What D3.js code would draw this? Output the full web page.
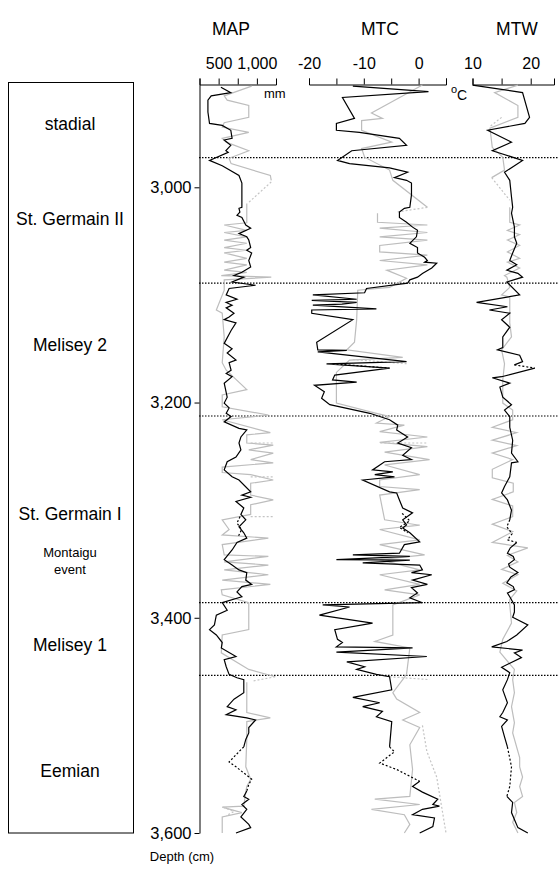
<!DOCTYPE html>
<html>
<head>
<meta charset="utf-8">
<script src="https://cdn.jsdelivr.net/npm/d3@7"></script>
<style>
  body { margin: 0; background: #fff; }
  text { font-family: "Liberation Sans", Arial, sans-serif; }
</style>
</head>
<body>
<div id="chart-area"></div>
<script>
// depth scale and zone annotations
const depthTicks = [3000, 3200, 3400, 3600]
const boundaries = [2972.5, 3089, 3212.5, 3386, 3453.5]
const zoneNames = ["stadial", "St. Germain II", "Melisey 2", "St. Germain I", "Montaigu", "event", "Melisey 1", "Eemian"]
const zoneDepths = [2940.6, 3029.7, 3146.6, 3303.5, 3339.7, 3355.5, 3425, 3542]

// MAP (mm) - [depth, value], null breaks the line
const mapBlack = [[2907,530],[2912,659],[2915,403],[2919,360],[2930,360],[2940.6,381],[2942.5,547],[2947,659],[2954.5,676],[2956,573],[2961,659],[2966,595],[2967.5,625],[2975,381],[2980,547],[2989,766],[2996,804],[3018.6,804],[3019.5,766],[3023,778],[3026,740],[3028,804],[3035,855],[3038,919],[3043,766],[3046,868],[3049,894],[3056,919],[3058.5,868],[3061,932],[3068,894],[3074,919],[3079,804],[3082,701],[3083.5,829],[3088,676],[3091,983],[3094,637],[3100,599],[3104,740],[3107,599],[3109.5,676],[3112,599],[3117,701],[3120.6,637],[3123,573],[3126,727],[3133,663],[3145,573],[3150,676],[3154,612],[3160.5,727],[3163,637],[3170,663],[3173,599],[3176,676],[3182,573],[3195,612],[3200.5,573],[3205,637],[3210,599],[3213,663],[3218,573],[3224,766],[3225.5,868],[3232,791],[3237.6,766],[3244,791],[3250.6,727],[3255,612],[3262.6,573],[3269,676],[3272,766],[3283,919],[3286,804],[3288,919],[3292,727],[3298,829],[3304,791],[3309,855],[3315.5,766],[3321,829],[3326,868],[3330,740],[3337,676],[3346,573],[3351,676],[3355.5,766],[3358,868],[3365,855],[3369,932],[3371,804],[3376,740],[3380.5,804],[3386,547],[3393,612],[3397.5,470],[3406.6,445],[3411,381],[3416,470],[3423,547],[3428,535],[3436,727],[3439,573],[3445.5,599],[3452.6,637],[3455.7,740],[3457.5,829],[3469.6,829],[3475.6,701],[3482.6,612],[3485.5,727],[3490,599],[3493,868],[3495,983],[3502,894],[3507,894],[3513,855],[3520,829],[3521,null],[3561,868],[3566,829],[3568.6,894],[3573.5,804],[3578,868],[3585,791],[3592,894],[3595,919],[3600,727]]
const mapBlackDot = [[3306,780],[3312,740],[3318,800],[3324,760],[3325,null],[3520,829],[3522.6,791],[3534,637],[3538.5,727],[3550,932],[3555,894],[3561,868]]
const mapGray = [[2906,932],[2915,573],[2919,612],[2924,894],[2935,894],[2940,573],[2944,547],[2949,894],[2954.5,547],[2958,599],[2966,894],[2973,637],[2978,663],[2989,1176],[2993.5,1188],[2995,null],[3015,868],[3033,868],[3035,573],[3040,868],[3042,573],[3046,868],[3049,573],[3052,868],[3056,573],[3058.5,868],[3061,573],[3066,868],[3069.6,573],[3072,868],[3077,573],[3079,868],[3082,535],[3083.5,1188],[3086,573],[3095.6,573],[3114,470],[3117,547],[3139,573],[3163,547],[3170,599],[3188,868],[3193,547],[3204,547],[3211.6,1150],[3216,547],[3228,1176],[3230,868],[3237.6,868],[3239.5,1214],[3244,894],[3247,1214],[3253,919],[3256,1214],[3260,547],[3265,547],[3267,919],[3272,1214],[3275,919],[3286,919],[3290.5,1214],[3295,919],[3304,919],[3309,547],[3318,637],[3323,547],[3326,1150],[3332,547],[3341.5,573],[3343,1150],[3348,573],[3351,1150],[3355.5,573],[3360,1150],[3365,547],[3369,1176],[3374,535],[3378.7,547],[3386,894],[3411,894],[3416,547],[3432.6,535],[3448,894],[3454.8,1240],[3456,null],[3460,868],[3488,868],[3493,1176],[3496.5,868],[3513,868],[3538.5,855],[3550,919],[3556.8,868],[3562,855],[3575,829],[3576,547],[3581,804],[3585,547],[3600,547]]
const mapLight = [[2995,1188],[3014,894],[3015,null],[3237.6,919],[3237.6,1214],[3238,null],[3269,919],[3269,1214],[3270,null],[3306,919],[3306,1214],[3307,null],[3454.8,1240],[3459,932],[3460,null],[3576,560],[3580,700],[3584,600]]

// MTC (oC)
const mtcBlack = [[2906,-12.0],[2911,1.8],[2916.5,-13.9],[2936,-11.7],[2940.6,-15.0],[2947,-15.0],[2949,-10.8],[2954.5,-3.5],[2961,-2.2],[2966,-12.2],[2975,-14.8],[2978,-12.6],[2982,-5.3],[2986,-2.0],[2991,-4.4],[2993.5,-2.2],[2996,-1.3],[3007,-1.3],[3018.6,-1.6],[3019.5,-2.6],[3023,-3.5],[3028,-3.5],[3032.5,-2.2],[3037,-1.1],[3040,-0.2],[3046,-0.4],[3052,-1.6],[3056,-0.2],[3061,-0.2],[3065,1.1],[3068,1.6],[3069.6,1.1],[3070.5,3.3],[3075,2.4],[3080,0.7],[3083.5,-0.2],[3086,-1.6],[3089,-2.0],[3094,-9.5],[3098,-9.85],[3100,-19.3],[3104,-11.3],[3105,-19.5],[3107,-11.3],[3108.6,-14.0],[3109.5,-19.3],[3113,-7.7],[3114,-19.5],[3117,-19.5],[3123,-12.0],[3144,-18.6],[3151,-18.4],[3151.5,-13.1],[3153,-18.4],[3162,-2.2],[3164,-16.8],[3168,-5.3],[3174.5,-15.3],[3179,-15.7],[3181,-11.3],[3184,-19.0],[3190,-17.2],[3196,-17.7],[3202,-16.2],[3210,-8.9],[3216,-5.3],[3221,-3.8],[3225.5,-4.0],[3232,-2.0],[3237.6,-3.8],[3242,-1.3],[3249,-2.9],[3253,-1.3],[3255,-6.2],[3262.6,-8.4],[3264.5,-4.7],[3267,-8.0],[3269,-4.4],[3272,-10.2],[3283,-5.3],[3284,-4.0],[3290.5,-3.5],[3298,-2.9],[3302.5,-1.1],[3309,-2.9],[3313.7,-2.2],[3316.5,-2.9],[3321,-1.6],[3329.5,0.2],[3332,-2.6],[3340,-3.5],[3341.5,-12.0],[3343,-1.6],[3346,-15.0],[3346.5,-1.6],[3349,-10.2],[3351,0.2],[3355.5,0.7],[3358,-1.3],[3360,2.4],[3365,-1.1],[3369,1.6],[3372,-1.3],[3377,-0.2],[3381.5,-1.6],[3386,0.7],[3388,-17.5],[3390,-12.6],[3397.5,-18.1],[3405,-8.4],[3411,-15.3],[3420,-14.8],[3423,-13.9],[3427,-15.0],[3428,-1.1],[3432,-15.0],[3436,1.5],[3441,-13.1],[3445.5,-9.85],[3448,-11.3],[3452.6,-7.7],[3454.8,-5.3],[3467,-4.9],[3474,-12.0],[3479,-7.1],[3482.6,-10.2],[3487,-6.6],[3492,-7.7],[3496.5,-4.9],[3520,-5.3],[3521,null],[3552,0.2],[3556.8,-1.1],[3562,0.7],[3568.6,3.5],[3573.5,2.6],[3575,3.8],[3578,0.7],[3583,-1.1],[3586,2.9],[3594,2.6],[3600,0.2]]
const mtcBlackDot = [[3164,-15.7],[3168,-5.3],[3169,null],[3303,-3.0],[3310,-1.6],[3316,-3.5],[3321,-2.0],[3322,null],[3520,-5.3],[3524.5,-4.4],[3535,-7.1],[3541,-4.0],[3552,0.2]]
const mtcGray = [[2905,0.7],[2913,-2.2],[2931,-8.6],[2936,-6.6],[2938,-10.4],[2947,-10.4],[2958,-4.9],[2964,-10.4],[2972,-9.85],[2984,-5.3],[2993.5,-4.7],[3018.6,1.6],[3020,null],[3024,-7.5],[3032.5,-7.5],[3035,1.6],[3038,-7.1],[3042,1.6],[3046,-7.1],[3049,1.6],[3054,-7.1],[3060,-7.1],[3063,1.6],[3068,-7.1],[3072,1.6],[3077,-5.8],[3084.5,-2.2],[3093,-5.3],[3095.6,-11.1],[3123,-11.3],[3144,-11.7],[3151,-13.1],[3158,-2.9],[3160.5,-12.6],[3172,-15.0],[3200.5,-15.0],[3210,-7.7],[3213,-5.3],[3219,-7.7],[3221,-2.6],[3227,-7.1],[3232,1.6],[3237,-7.1],[3241,1.6],[3246,-6.2],[3253,2.0],[3258,-6.2],[3267,0.2],[3272,-7.1],[3278,-7.1],[3281,0.2],[3286,-7.1],[3309,-6.2],[3314,0.2],[3318,-7.1],[3327.6,0.2],[3332,-7.1],[3341.5,1.1],[3346,-7.1],[3355.5,0.2],[3360,-7.1],[3369,0.2],[3374,-6.2],[3378.7,0.2],[3388,-4.7],[3416,-4.7],[3422,-8.0],[3428,-1.6],[3452.6,-2.2],[3457.5,-2.9],[3469.6,-4.7],[3475.6,-4.0],[3488,0.2],[3495,-2.9],[3502,0.2],[3518,-1.6],[3541,-1.1],[3566,-1.6],[3568.6,-8.0],[3573.5,0.2],[3578,-8.6],[3583,-2.6],[3592,-1.6],[3600,-2.6]]
const mtcLight = [[3018.6,1.6],[3023,-4.0],[3024,null],[3160,-12.0],[3164,-2.0],[3165,null],[3237.6,-7.0],[3237.6,1.6],[3238,null],[3454.8,-5.3],[3457.5,2.0],[3458,null],[3500,0.7],[3524,1.5],[3548,3.3],[3600,5.0]]

// MTW (oC)
const mtwBlack = [[2905,10.0],[2912,18.6],[2935,19.8],[2940.6,19.0],[2947,12.6],[2958,16.7],[2966,13.4],[2975,18.6],[2986,15.5],[2993.5,16.4],[3009,16.7],[3018.6,16.9],[3024,16.7],[3037,17.2],[3046,17.2],[3052,17.6],[3061,16.9],[3068,16.4],[3072,17.6],[3077,15.9],[3080,17.8],[3083.5,18.6],[3088,15.9],[3100,18.1],[3107,10.7],[3111,16.0],[3114,12.9],[3117,16.4],[3123,15.0],[3130,16.4],[3139,15.2],[3149,15.2],[3151,14.3],[3156,18.1],[3162,18.6],[3165,17.2],[3166,null],[3168,20.7],[3176,15.0],[3177,13.4],[3182,16.4],[3185.6,14.7],[3195,15.2],[3202,16.7],[3207,15.5],[3213,16.4],[3223,16.4],[3235,16.9],[3247,16.7],[3255,17.8],[3256,16.7],[3269,16.4],[3278,15.5],[3284,15.0],[3290.5,16.0],[3300,16.7],[3309,16.4],[3310,null],[3330,17.6],[3335,16.5],[3340,16.0],[3343,17.0],[3346,17.2],[3350,16.2],[3353,16.4],[3358,17.8],[3362,16.6],[3367.5,15.9],[3371,17.0],[3374,17.2],[3377,16.0],[3380.5,16.4],[3388,17.2],[3394.7,17.2],[3399.5,16.9],[3406.6,19.5],[3416,17.6],[3422,15.9],[3427,13.3],[3430,18.6],[3432.6,17.2],[3437,18.4],[3446,15.0],[3451,16.4],[3457.5,16.0],[3467,15.2],[3479,16.0],[3488,15.2],[3492,14.7],[3495,16.0],[3501,15.0],[3510.6,15.5],[3520,16.0],[3521,null],[3566,15.9],[3571.6,16.9],[3581,16.7],[3587.5,17.2],[3595,17.8],[3600,19.5]]
const mtwBlackDot = [[3165,17.2],[3168,20.7],[3169,null],[3309,16.4],[3315.5,15.9],[3322,16.8],[3327.6,16.0],[3330,17.6],[3331,null],[3520,16.0],[3538.5,16.7],[3556.8,16.4],[3566,15.9]]
const mtwGray = [[2905,17.8],[2912,13.8],[2924,17.8],[2935,17.8],[2945,13.0],[2963,13.4],[2972,15.2],[2984,15.5],[2991,13.3],[2992,null],[3018.6,16.4],[3032.5,16.4],[3035,18.1],[3040,16.0],[3044,18.1],[3049,16.0],[3054,18.1],[3060,16.0],[3066,18.1],[3069.6,16.0],[3075,18.1],[3082,15.5],[3083.5,15.9],[3093,16.4],[3100,15.0],[3102,16.4],[3126,16.4],[3139,16.7],[3151,15.0],[3164,15.5],[3179,15.2],[3200.5,15.2],[3207,16.9],[3216,16.9],[3223,13.4],[3228,17.6],[3235,13.4],[3240,17.6],[3247,13.4],[3253,16.9],[3262,13.4],[3270,13.4],[3275,17.0],[3283,17.0],[3290,13.4],[3296,16.9],[3306,16.9],[3313,13.4],[3320,16.9],[3330,13.4],[3335,19.5],[3342,16.0],[3348,17.8],[3355,15.0],[3360,17.8],[3368,15.2],[3375,17.6],[3383,16.4],[3388,16.4],[3405,16.7],[3420,15.2],[3432,14.7],[3448,17.2],[3457.5,16.9],[3469.6,17.2],[3482.6,16.7],[3497.5,17.2],[3507,16.9],[3530,18.1],[3538.5,18.1],[3548,18.6],[3556.8,18.1],[3566,18.6],[3571.6,17.2],[3581,17.6],[3590,16.9],[3600,17.8]]
const mtwLight = [[2935,15.0],[2944,12.9],[2945,null],[2991,13.3],[3012,16.4]]

const mapTicks = [250, 500, 750, 1000]
const mapLabels = [500, 1000]
const mtcTicks = [-20, -15, -10, -5, 0, 5]
const mtcLabels = [-20, -10, 0]
const mtwTicks = [10, 15, 20]
const mtwLabels = [10, 20]

const totalWidth = 558
const totalHeight = 872
const AXIS_TOP = 84
const FONT = '"Liberation Sans", Arial, sans-serif'

const svg = d3.select("#chart-area")
    .append("svg")
    .attr("width", totalWidth)
    .attr("height", totalHeight)

const yScale = d3.scaleLinear()
    .domain([2904, 3600])
    .range([AXIS_TOP, 833])

// zone box on the left
svg.append("rect")
    .attr("x", 8.5)
    .attr("y", 82.5)
    .attr("width", 125)
    .attr("height", 750.5)
    .attr("fill", "none")
    .attr("stroke", "#000")
    .attr("stroke-width", 1)

zoneNames.forEach((name, i) => {
    const small = name === "Montaigu" || name === "event"
    svg.append("text")
        .attr("x", 70)
        .attr("y", yScale(zoneDepths[i]))
        .attr("dy", "0.35em")
        .attr("text-anchor", "middle")
        .attr("font-size", small ? "13px" : "17.5px")
        .text(name)
})

// depth axis
const yAxis = svg.append("g")
    .attr("transform", "translate(199.5, 0)")
    .call(d3.axisLeft(yScale)
        .tickValues(depthTicks)
        .tickSize(5)
        .tickSizeOuter(0)
        .tickPadding(3)
        .tickFormat(d3.format(",")))
yAxis.attr("font-size", 16.5).attr("font-family", FONT)

svg.append("text")
    .attr("x", 182)
    .attr("y", 861)
    .attr("text-anchor", "middle")
    .attr("font-size", "13px")
    .text("Depth (cm)")

// boundaries
svg.selectAll(".boundary")
    .data(boundaries)
    .enter().append("line")
    .attr("class", "boundary")
    .attr("x1", 199)
    .attr("x2", totalWidth)
    .attr("y1", d => yScale(d))
    .attr("y2", d => yScale(d))
    .attr("stroke", "#000")
    .attr("stroke-width", 1.2)
    .style("stroke-dasharray", "1.5, 1.5")

const fmt = d => (d < 0 ? "-" : "") + d3.format(",")(Math.abs(d))

const panels = [
    {title: "MAP", titleX: 231, domain: [250, 1250], range: [199.5, 276], ticks: mapTicks, labels: mapLabels,
     gray: mapGray, light: mapLight, black: mapBlack, dot: mapBlackDot},
    {title: "MTC", titleX: 380, domain: [-20, 5], range: [309, 446], ticks: mtcTicks, labels: mtcLabels,
     gray: mtcGray, light: mtcLight, black: mtcBlack, dot: mtcBlackDot},
    {title: "MTW", titleX: 517, domain: [10, 24], range: [472.5, 554], ticks: mtwTicks, labels: mtwLabels,
     gray: mtwGray, light: mtwLight, black: mtwBlack, dot: mtwBlackDot}
]

panels.forEach(p => {
    const xScale = d3.scaleLinear().domain(p.domain).range(p.range)

    svg.append("text")
        .attr("x", p.titleX)
        .attr("y", 35)
        .attr("text-anchor", "middle")
        .attr("font-size", "17.5px")
        .text(p.title)

    const xAxis = svg.append("g")
        .attr("transform", `translate(0, ${AXIS_TOP + 0.5})`)
        .call(d3.axisTop(xScale)
            .tickValues(p.ticks)
            .tickSize(6)
            .tickSizeOuter(6)
            .tickPadding(10)
            .tickFormat(d => p.labels.includes(d) ? fmt(d) : ""))
    xAxis.attr("font-size", 16).attr("font-family", FONT)

    const line = d3.line()
        .defined(d => d[1] !== null)
        .x(d => xScale(d[1]))
        .y(d => yScale(d[0]))

    svg.append("path")
        .attr("d", line(p.gray))
        .attr("fill", "none")
        .attr("stroke", "#bdbdbd")
        .attr("stroke-width", 1.2)

    svg.append("path")
        .attr("d", line(p.light))
        .attr("fill", "none")
        .attr("stroke", "#c4c4c4")
        .attr("stroke-width", 1.2)
        .style("stroke-dasharray", "2, 2")

    svg.append("path")
        .attr("d", line(p.black))
        .attr("fill", "none")
        .attr("stroke", "#000")
        .attr("stroke-width", 1.2)

    svg.append("path")
        .attr("d", line(p.dot))
        .attr("fill", "none")
        .attr("stroke", "#000")
        .attr("stroke-width", 1.2)
        .style("stroke-dasharray", "2, 2")
})

// units
svg.append("text")
    .attr("x", 264)
    .attr("y", 98)
    .attr("font-size", "13px")
    .text("mm")

svg.append("text")
    .attr("x", 451)
    .attr("y", 93)
    .attr("font-size", "11px")
    .text("o")
svg.append("text")
    .attr("x", 457)
    .attr("y", 100)
    .attr("font-size", "14px")
    .text("C")
</script>
</body>
</html>
